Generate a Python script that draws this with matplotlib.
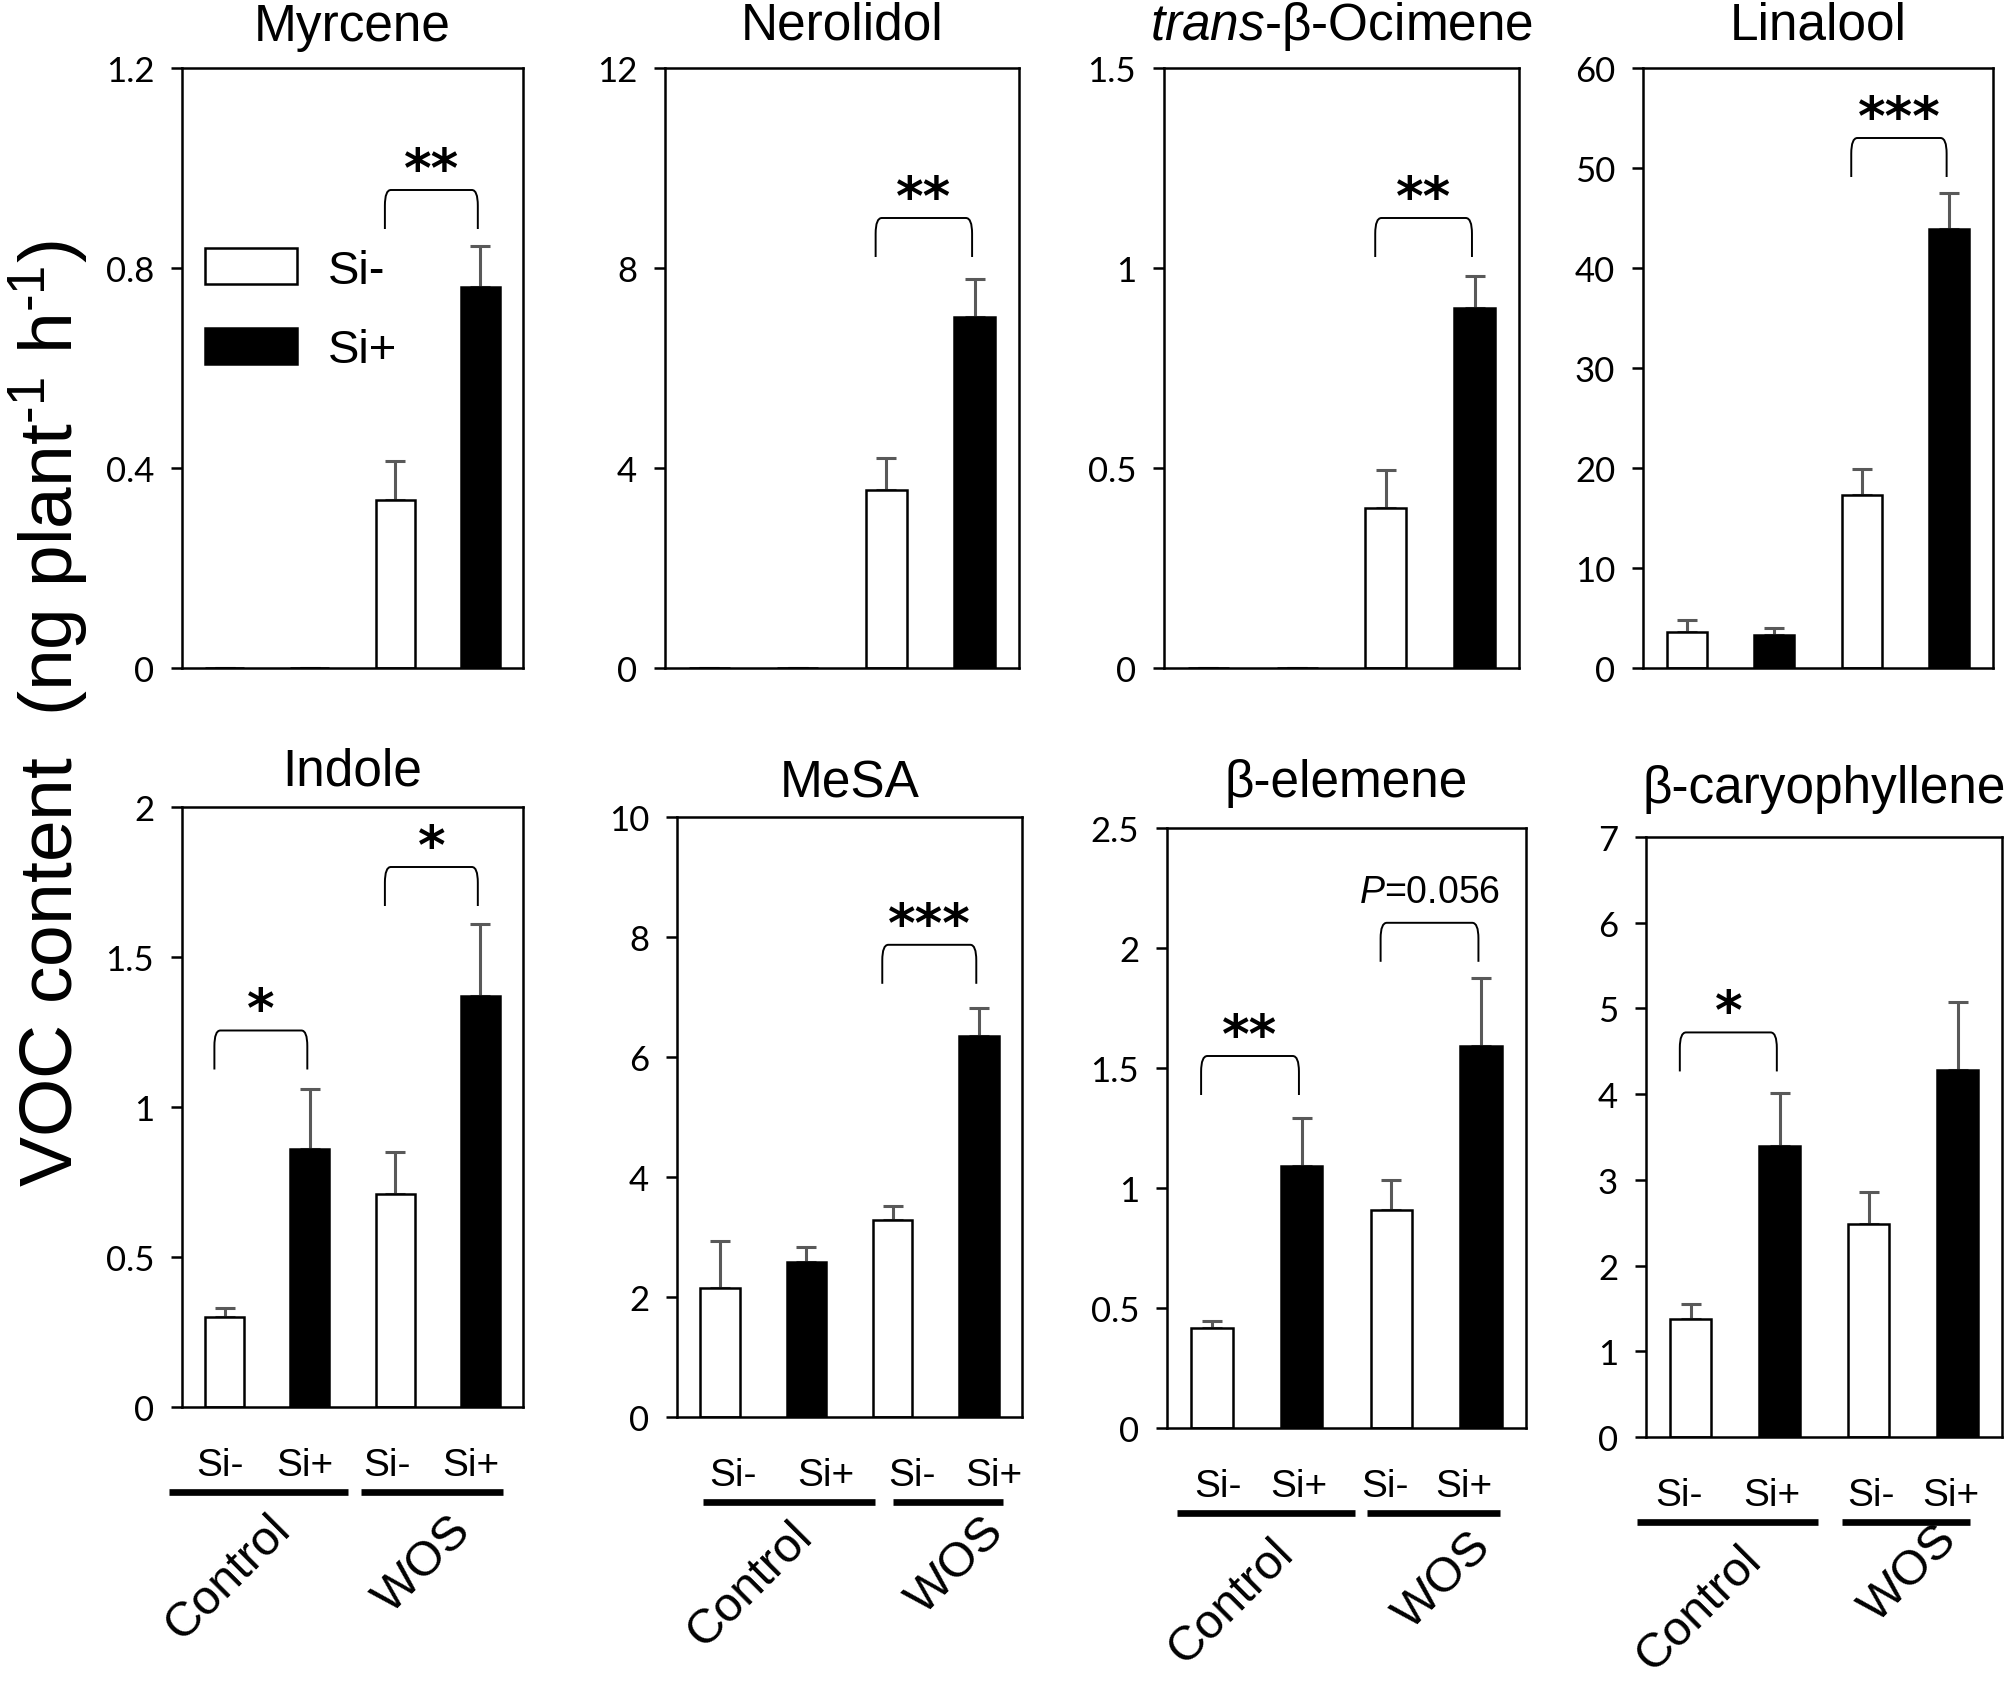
import numpy as np
import matplotlib
matplotlib.use("Agg")
import matplotlib.pyplot as plt
import matplotlib.transforms as mtransforms
from matplotlib.path import Path
from matplotlib.patches import PathPatch, Patch

plt.rcParams['font.family'] = ['Liberation Sans', 'DejaVu Sans']
plt.rcParams['mathtext.fontset'] = 'custom'
plt.rcParams['mathtext.rm'] = 'Liberation Sans'
plt.rcParams['mathtext.it'] = 'Liberation Sans:italic'

# ---- data ----
compounds = ['Myrcene', 'Nerolidol', r'$\mathit{trans}$-β-Ocimene', 'Linalool',
             'Indole', 'MeSA', 'β-elemene', 'β-caryophyllene']
treatments = ['Si-', 'Si+', 'Si-', 'Si+']
groups = ['Control', 'WOS']

myrcene = [0, 0, 0.337, 0.762]
myrcene_se = [0, 0, 0.077, 0.083]
nerolidol = [0, 0, 3.56, 7.02]
nerolidol_se = [0, 0, 0.65, 0.76]
ocimene = [0, 0, 0.399, 0.90]
ocimene_se = [0, 0, 0.097, 0.08]
linalool = [3.6, 3.3, 17.3, 43.9]
linalool_se = [1.25, 0.7, 2.65, 3.6]
indole = [0.30, 0.86, 0.71, 1.37]
indole_se = [0.03, 0.20, 0.14, 0.24]
mesa = [2.15, 2.58, 3.29, 6.35]
mesa_se = [0.78, 0.26, 0.23, 0.46]
elemene = [0.415, 1.09, 0.91, 1.59]
elemene_se = [0.03, 0.20, 0.125, 0.285]
caryophyllene = [1.38, 3.39, 2.49, 4.28]
caryophyllene_se = [0.17, 0.62, 0.37, 0.79]

means = [myrcene, nerolidol, ocimene, linalool, indole, mesa, elemene, caryophyllene]
errors = [myrcene_se, nerolidol_se, ocimene_se, linalool_se,
          indole_se, mesa_se, elemene_se, caryophyllene_se]
ymax = [1.2, 12, 1.5, 60, 2, 10, 2.5, 7]
ystep = [0.4, 4, 0.5, 10, 0.5, 2, 0.5, 1]

# significance: (bar i, bar j, bracket top, label)
signif = [
    [(2, 3, 0.956, '**')],
    [(2, 3, 9.0, '**')],
    [(2, 3, 1.125, '**')],
    [(2, 3, 53.0, '***')],
    [(0, 1, 1.255, '*'), (2, 3, 1.80, '*')],
    [(2, 3, 7.87, '***')],
    [(0, 1, 1.55, '**'), (2, 3, 2.105, r'$\mathit{P}$=0.056')],
    [(0, 1, 4.72, '*')],
]

# ---- layout (pixels in the 2010x1683 figure: left, right, top, bottom) ----
W, H = 2010, 1683
boxes = [(182, 523, 69, 669), (665, 1019, 69, 669), (1164, 1519, 69, 669), (1643, 1993, 69, 669),
         (182, 523, 808, 1408), (677, 1022, 818, 1418), (1167, 1526, 829, 1429), (1646, 2002, 838, 1438)]
title_pad = [20, 21, 21, 21, 16, 15, 23, 25]
# per bottom panel: Si label x offsets, group line spans, group label x / drop (px)
si_off = [[-0.05, -0.06, -0.09, -0.11], [0.15, 0.23, 0.22, 0.17],
          [0.07, -0.03, -0.07, -0.19], [-0.13, -0.09, 0.03, -0.08]]
line_spans = [[(-0.65, 1.45), (1.6, 3.26)], [(-0.2, 1.79), (2.01, 3.28)],
              [(-0.39, 1.6), (1.73, 3.21)], [(-0.6, 1.43), (1.7, 3.14)]]
grp_x = [[0.04, 2.33], [0.35, 2.73], [0.21, 2.57], [0.09, 2.46]]
grp_dy = [[170, 157], [167, 148], [173, 152], [171, 136]]

fig = plt.figure(figsize=(W / 100, H / 100), dpi=100)
x = np.arange(4)
colors = ['white', 'black', 'white', 'black']


def bracket(ax, x0, x1, ytop, leg, label):
    dx = 0.07
    r = leg * 0.4
    verts = [(x0, ytop - leg), (x0, ytop - r), (x0, ytop), (x0 + dx, ytop),
             (x1 - dx, ytop), (x1, ytop), (x1, ytop - r), (x1, ytop - leg)]
    codes = [Path.MOVETO, Path.LINETO, Path.CURVE3, Path.CURVE3,
             Path.LINETO, Path.CURVE3, Path.CURVE3, Path.LINETO]
    ax.add_patch(PathPatch(Path(verts, codes), fc='none', ec='black', lw=1.4, clip_on=False))
    if label.startswith('*'):
        ax.annotate(label, ((x0 + x1) / 2, ytop), xytext=(0, 3), textcoords='offset points',
                    ha='center', va='baseline', fontsize=38, fontweight='bold',
                    family='DejaVu Sans')
    else:
        ax.annotate(label, ((x0 + x1) / 2, ytop), xytext=(0, 15), textcoords='offset points',
                    ha='center', va='baseline', fontsize=27)


for k in range(8):
    l, r, t, b = boxes[k]
    ax = fig.add_axes([l / W, 1 - b / H, (r - l) / W, (b - t) / H])
    ax.bar(x, means[k], width=0.46, color=colors, edgecolor='black', linewidth=1.8, zorder=2)
    ax.errorbar(x, means[k], yerr=[np.zeros(4), errors[k]], fmt='none', ecolor='#595959',
                elinewidth=2.2, capsize=7, capthick=2.2, zorder=1)
    ax.set_xlim(-0.5, 3.5)
    ax.set_ylim(0, ymax[k])
    ax.set_yticks(np.arange(0, ymax[k] + ystep[k] / 2, ystep[k]))
    ax.yaxis.set_major_formatter(matplotlib.ticker.FormatStrFormatter('%g'))
    for lab in ax.get_yticklabels():
        lab.set_family(['Lato', 'DejaVu Sans'])
    ax.tick_params(axis='y', direction='out', length=8, width=1.8, labelsize=25, pad=12)
    for s in ax.spines.values():
        s.set_linewidth(1.8)
    ax.set_title(compounds[k], fontsize=37, pad=title_pad[k])

    for (i, j, ytop, label) in signif[k]:
        bracket(ax, i - 0.12, j - 0.03, ytop, 0.065 * ymax[k], label)

    if k < 4:
        ax.set_xticks([])
    else:
        m = k - 4
        ax.set_xticks(x + np.array(si_off[m]))
        ax.set_xticklabels(treatments, fontsize=28)
        ax.tick_params(axis='x', length=0, pad=29)
        trans = mtransforms.blended_transform_factory(ax.transData, ax.transAxes)
        off = mtransforms.ScaledTranslation(0, -85 / 100, fig.dpi_scale_trans)
        for (a, c) in line_spans[m]:
            ax.plot([a, c], [0, 0], color='black', lw=4.8, solid_capstyle='butt',
                    transform=trans + off, clip_on=False)
        for g in range(2):
            o2 = mtransforms.ScaledTranslation(0, -grp_dy[m][g] / 100, fig.dpi_scale_trans)
            ax.text(grp_x[m][g], 0, groups[g], rotation=45, ha='center', va='center',
                    fontsize=35, transform=trans + o2)

    if k == 0:
        handles = [Patch(fc='white', ec='black', lw=1.8), Patch(fc='black', ec='black', lw=1.8)]
        ax.legend(handles, ['Si-', 'Si+'], loc='upper left', bbox_to_anchor=(0.067, 0.70),
                  frameon=False, fontsize=34, handlelength=1.96, handleheight=0.81,
                  handletextpad=0.64, labelspacing=0.74, borderpad=0, borderaxespad=0)

fig.text(0.024, 0.576, r'VOC content  (ng plant$^{\text{-}1}$ h$^{\text{-}1}$)', rotation=90,
         ha='center', va='center', fontsize=54)

fig.savefig('out.png', dpi=100)
